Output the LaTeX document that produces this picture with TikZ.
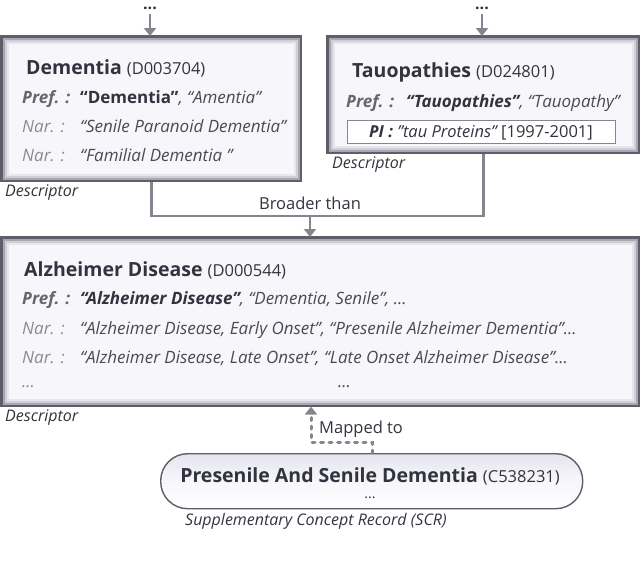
\documentclass[tikz,border=0pt]{standalone}
\usepackage{fontspec}
\setmainfont{Open Sans}
\usetikzlibrary{arrows.meta,calc}
\definecolor{boxfill}{HTML}{F7F7FB}
\definecolor{boxline}{HTML}{5E5E6A}
\definecolor{glowA}{HTML}{A8A8B2}
\definecolor{glowB}{HTML}{CFCFD6}
\definecolor{glowC}{HTML}{E6E6EC}
\definecolor{conn}{HTML}{85858E}
\definecolor{titlec}{HTML}{33333F}
\definecolor{prefc}{HTML}{66666E}
\definecolor{narc}{HTML}{8A8A92}
\definecolor{valc}{HTML}{4A4A54}
\definecolor{scrtop}{HTML}{E4E5EE}
\tikzset{
  descbox/.style={draw=boxline, line width=1.6pt, fill=boxfill, anchor=north west, inner sep=0pt},
  txt/.style={anchor=base west, inner sep=0pt, text=valc, font=\fontsize{17}{19}\selectfont\itshape},
  ttl/.style={anchor=base west, inner sep=0pt, text=titlec, font=\fontsize{19.5}{21}\selectfont},
  preflab/.style={anchor=base west, inner sep=0pt, text=prefc, font=\fontsize{17}{19}\selectfont\bfseries\itshape},
  narlab/.style={anchor=base west, inner sep=0pt, text=narc, font=\fontsize{17}{19}\selectfont\itshape},
  kind/.style={anchor=base west, inner sep=0pt, text=titlec, font=\fontsize{16}{18}\selectfont\itshape},
  lbl/.style={anchor=base, inner sep=0pt, text=titlec, font=\fontsize{16.5}{18}\selectfont},
  dots/.style={anchor=base, inner sep=0pt, text height=4pt, text depth=0pt, text=titlec, font=\fontsize{16}{16}\selectfont\bfseries},
  conline/.style={draw=conn, line width=2.6pt},
  tip/.style={-{Triangle[width=12pt,length=8pt]}},
}
\newcommand{\idfont}{\fontsize{16.5}{18}\selectfont\mdseries}
\newcommand{\glowbox}[1]{%
  \draw[glowA, line width=2pt] ([shift={(2.5,2.5)}]#1.north west) rectangle ([shift={(-2.5,-2.5)}]#1.south east);
  \draw[glowB, line width=2pt] ([shift={(4.5,4.5)}]#1.north west) rectangle ([shift={(-4.5,-4.5)}]#1.south east);
  \draw[glowC, line width=2pt] ([shift={(6.5,6.5)}]#1.north west) rectangle ([shift={(-6.5,-6.5)}]#1.south east);
  \draw[boxline, line width=1.6pt] (#1.north west) rectangle (#1.south east);
}
\begin{document}
\begin{tikzpicture}[x=1pt,y=-1pt]
\useasboundingbox (0,0) rectangle (640,560);

% boxes
\node[descbox, minimum width=299pt, minimum height=144pt] (dem) at (1,36) {};
\glowbox{dem}
\node[descbox, minimum width=311pt, minimum height=116pt] (tau) at (327,36) {};
\glowbox{tau}
\node[descbox, minimum width=637pt, minimum height=168pt] (alz) at (1,237) {};
\glowbox{alz}

% top dots and arrows
\node[dots] (d1) at (150,9) {...};
\node[dots] (d2) at (482,9) {...};
\draw[conline, tip] ([yshift=-5pt]d1.south) -- (dem.north -| d1);
\draw[conline, tip] ([yshift=-5pt]d2.south) -- (tau.north -| d2);

% Dementia
\node[ttl] (demt) at (26,74) {\bfseries Dementia \idfont(D003704)};
\node[preflab] (demp) at (22,103) {Pref. :};
\node[txt] (dempv) at (80,103) {\upshape\bfseries\color{titlec}“Dementia”\mdseries\itshape\color{valc}, “Amentia”};
\node[narlab] (demn1) at (22,132) {Nar. :};
\node[txt] (demn1v) at (80,132) {“Senile Paranoid Dementia”};
\node[narlab] (demn2) at (22,161) {Nar. :};
\node[txt] (demn2v) at (80,161) {“Familial Dementia ”};
\node[kind] (demk) at (5,196) {Descriptor};

% Tauopathies
\node[ttl] (taut) at (352,77) {\bfseries Tauopathies \idfont(D024801)};
\node[preflab] (taup) at (346,107) {Pref. :};
\node[txt] (taupv) at (406,107) {\bfseries\color{titlec}“Tauopathies”\mdseries\color{valc}, “Tauopathy”};
\node[draw=conn, line width=1pt, fill=white, minimum width=268pt, minimum height=23pt, inner sep=0pt] (pi) at (481,131.5) {};
\node[anchor=base, inner sep=0pt, text=titlec, font=\fontsize{16.5}{18}\selectfont] (pit) at (481,137.5) {\bfseries\itshape PI :\mdseries\ "tau Proteins"\upshape\ [1997-2001]};
\node[kind] (tauk) at (332,168) {Descriptor};

% Broader than
\coordinate (j) at (310,216);
\draw[conline] (dem.south) |- (tau.south |- j) -- (tau.south);
\draw[conline, tip] (j) -- (alz.north -| j);
\node[lbl] (bt) at (310,209) {Broader than};

% Alzheimer
\node[ttl] (alzt) at (24,276) {\bfseries Alzheimer Disease \idfont(D000544)};
\node[preflab] (alzp) at (22,304) {Pref. :};
\node[txt] (alzpv) at (80,304) {\bfseries\color{titlec}“Alzheimer Disease”\mdseries\color{valc}, “Dementia, Senile”, ...};
\node[narlab] (alzn1) at (22,334) {Nar. :};
\node[txt] (alzn1v) at (80,334) {“Alzheimer Disease, Early Onset”, “Presenile Alzheimer Dementia”...};
\node[narlab] (alzn2) at (22,363) {Nar. :};
\node[txt] (alzn2v) at (80,363) {“Alzheimer Disease, Late Onset”, “Late Onset Alzheimer Disease”...};
\node[narlab] (alzd1) at (22,387) {...};
\node[txt] (alzd2) at (338,387) {...};
\node[kind] (alzk) at (5,421) {Descriptor};

% SCR
\node[draw=boxline, line width=1.4pt, top color=scrtop, bottom color=white, middle color=boxfill,
      rounded corners=27pt, minimum width=422pt, minimum height=55pt, inner sep=0pt, anchor=north west] (scr) at (160,453) {};
\node[anchor=base, inner sep=0pt, text=titlec, font=\fontsize{19.5}{21}\selectfont] (scrt) at (370,482) {\bfseries Presenile And Senile Dementia \idfont(C538231)};
\node[anchor=base, inner sep=0pt, text=titlec, font=\fontsize{14}{14}\selectfont] (scrd) at (370,498) {...};
\node[kind] (scrk) at (185,525) {Supplementary Concept Record (SCR)};

% Mapped to
\coordinate (m) at (311,442);
\draw[conline, line width=3pt, line cap=round, dash pattern=on 3pt off 5.5pt, tip] (scr.north -| 372,0) |- (m) -- (alz.south -| m);
\node[anchor=base west, inner sep=0pt, text=titlec, font=\fontsize{16.5}{18}\selectfont] (mt) at (319,433) {Mapped to};
\end{tikzpicture}
\end{document}
